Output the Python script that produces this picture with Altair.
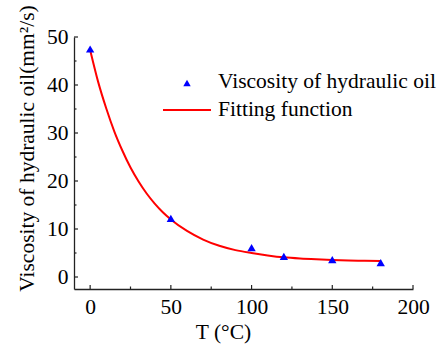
import altair as alt
import pandas as pd

# measured data
temps = [0, 50, 100, 120, 150, 180]
visc = [47.5, 12.2, 6.1, 4.3, 3.6, 3.0]

# fitting curve
fit_t = [0, 5, 10, 15, 20, 25, 30, 35, 40, 45, 50, 60, 70, 80, 90, 100, 110, 120, 130, 140, 150, 160, 170, 180]
fit_v = [47.3, 40.6, 35.1, 30.3, 26.3, 22.8, 19.9, 17.4, 15.3, 13.5, 12.0, 9.6, 7.8, 6.5, 5.6, 5.0, 4.5, 4.1, 3.85, 3.68, 3.55, 3.45, 3.38, 3.32]

x_major = [0, 50, 100, 150, 200]
x_minor = [25, 75, 125, 175]
y_major = [0, 10, 20, 30, 40, 50]
y_minor = [5, 15, 25, 35, 45]

legend_labels = ["Viscosity of hydraulic oil", "Fitting function"]

FONT = "Liberation Serif"
FS = 21.5
W, H = 339, 252

xs = alt.Scale(domain=[-10, 200], nice=False, zero=False)
ys = alt.Scale(domain=[-2.5, 50], nice=False, zero=False)

pts = pd.DataFrame({"T": temps, "V": visc})
fit = pd.DataFrame({"T": fit_t, "V": fit_v})

xaxis = alt.Axis(values=x_major, tickSize=0, labelFont=FONT, labelFontSize=FS, labelColor="black",
                 labelPadding=7, labelFlush=False, labelOverlap=False, domainColor="#222", domainWidth=1.3, grid=False,
                 title="T (°C)", titleFont=FONT, titleFontSize=FS, titleFontWeight="normal",
                 titleColor="black", titleX=149, titleY=43, titleBaseline="middle", titleAlign="center")
yaxis = alt.Axis(values=y_major, tickSize=0, labelFont=FONT, labelFontSize=FS, labelColor="black",
                 labelPadding=6, labelFlush=False, labelOverlap=False, domainColor="#222", domainWidth=1.3, grid=False,
                 title="Viscosity of hydraulic oil(mm²/s)", titleFont=FONT, titleFontSize=FS,
                 titleFontWeight="normal", titleColor="black", titleX=-47, titleY=111,
                 titleAngle=-90, titleBaseline="middle", titleAlign="center")

curve = alt.Chart(fit).mark_line(color="#FF0000", strokeWidth=2, interpolate="monotone").encode(
    x=alt.X("T:Q", scale=xs, axis=xaxis),
    y=alt.Y("V:Q", scale=ys, axis=yaxis),
)

points = alt.Chart(pts).mark_point(shape="triangle-up", filled=True, color="#0000FF", size=70, opacity=1).encode(
    x=alt.X("T:Q", scale=xs),
    y=alt.Y("V:Q", scale=ys),
)

# inward ticks
xmaj = alt.Chart(pd.DataFrame({"t": x_major})).mark_rule(color="#222", strokeWidth=1.2).encode(
    x=alt.X("t:Q", scale=xs), y=alt.value(H), y2=alt.value(H - 4))
xmin = alt.Chart(pd.DataFrame({"t": x_minor})).mark_rule(color="#222", strokeWidth=1.2).encode(
    x=alt.X("t:Q", scale=xs), y=alt.value(H), y2=alt.value(H - 2.5))
ymaj = alt.Chart(pd.DataFrame({"t": y_major})).mark_rule(color="#222", strokeWidth=1.2).encode(
    y=alt.Y("t:Q", scale=ys), x=alt.value(0), x2=alt.value(4))
ymin = alt.Chart(pd.DataFrame({"t": y_minor})).mark_rule(color="#222", strokeWidth=1.2).encode(
    y=alt.Y("t:Q", scale=ys), x=alt.value(0), x2=alt.value(2.5))

one = pd.DataFrame({"a": [0]})
leg_tri = alt.Chart(one).mark_point(shape="triangle-up", filled=True, color="#0000FF", size=55, opacity=1).encode(
    x=alt.value(113), y=alt.value(46))
leg_line = alt.Chart(one).mark_rule(color="#FF0000", strokeWidth=2).encode(
    x=alt.value(89), x2=alt.value(137), y=alt.value(73))
leg_txt1 = alt.Chart(one).mark_text(text=legend_labels[0], font=FONT, fontSize=FS, align="left",
                                    baseline="middle", color="black").encode(x=alt.value(144), y=alt.value(45))
leg_txt2 = alt.Chart(one).mark_text(text=legend_labels[1], font=FONT, fontSize=FS, align="left",
                                    baseline="middle", color="black").encode(x=alt.value(144), y=alt.value(73))

chart = alt.layer(curve, points, xmaj, xmin, ymaj, ymin, leg_tri, leg_line, leg_txt1, leg_txt2).properties(
    width=W, height=H,
    autosize=alt.AutoSizeParams(type="none"),
    padding={"left": 74, "top": 37, "right": 32, "bottom": 58},
    background="white",
).configure_view(stroke=None)

chart.save("out.html", embed_options={"renderer": "svg", "actions": False})
